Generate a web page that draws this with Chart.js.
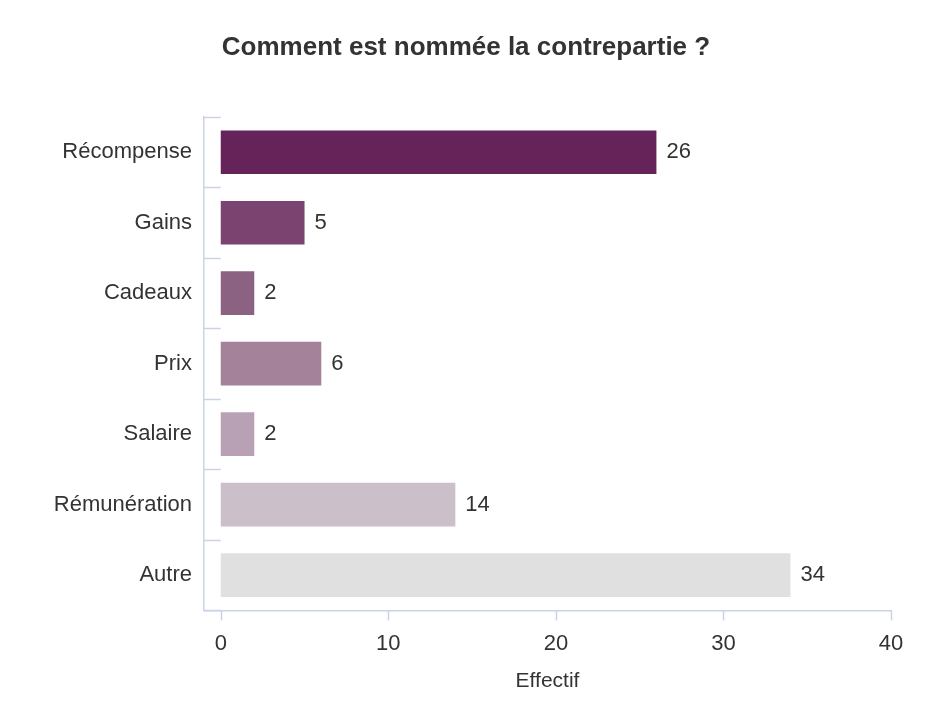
<!DOCTYPE html>
<html><head><meta charset="utf-8">
<script src="https://cdn.jsdelivr.net/npm/chart.js@4"></script>
<style>body{margin:0;background:#fff}</style></head>
<body><canvas id="c" width="934" height="718"></canvas>
<script>
const categories=["Récompense","Gains","Cadeaux","Prix","Salaire","Rémunération","Autre"];
const values=[26,5,2,6,2,14,34];
const colors=["#65235a","#7a4370","#8c6283","#a48299","#b9a1b5","#cbc0ca","#e0e0e0"];
const xTicks=[0,10,20,30,40];
const titleText="Comment est nommée la contrepartie ?";
const F="'Liberation Sans', Arial, sans-serif";
const AX="#ccd3e6";
const deco={id:'deco',afterDatasetsDraw(ch){
 const c=ch.ctx,x=ch.scales.x,y=ch.scales.y,a=ch.chartArea;
 c.save();c.strokeStyle=AX;c.lineWidth=1.5;
 const step=(a.bottom-a.top)/categories.length;
 for(let i=0;i<=categories.length;i++){const yy=Math.round(a.top+i*step)+0.5;c.beginPath();c.moveTo(a.left,yy);c.lineTo(x.getPixelForValue(0),yy);c.stroke();}
 xTicks.forEach(v=>{const xx=Math.round(x.getPixelForValue(v))+0.5;c.beginPath();c.moveTo(xx,a.bottom);c.lineTo(xx,a.bottom+10);c.stroke();});
 c.fillStyle="#333";c.font="22px "+F;c.textBaseline="middle";
 ch.getDatasetMeta(0).data.forEach((b,i)=>c.fillText(values[i],b.x+10,b.y));
 c.font="bold 26px "+F;c.textAlign="center";c.fillText(titleText,466,48);
 c.restore();}};
new Chart(document.getElementById('c'),{type:'bar',
data:{labels:categories,datasets:[{data:values,backgroundColor:colors,barPercentage:0.62,categoryPercentage:1}]},
options:{indexAxis:'y',responsive:false,animation:false,
layout:{padding:{top:117,right:43,bottom:20,left:0}},
plugins:{legend:{display:false},tooltip:{enabled:false},title:{display:false}},
scales:{
 x:{min:-1,max:40,afterBuildTicks(s){s.ticks=xTicks.map(v=>({value:v}));},
  grid:{display:false},border:{color:AX,width:1.5},
  ticks:{color:"#333",font:{family:F,size:22},padding:12},
  title:{display:true,text:"Effectif",color:"#333",font:{family:F,size:21},padding:{top:0}}},
 y:{grid:{display:false},border:{color:AX,width:1.5},afterFit(s){s.width=204;},
  ticks:{color:"#333",font:{family:F,size:22},padding:4}}}},
plugins:[deco]});
</script></body></html>
